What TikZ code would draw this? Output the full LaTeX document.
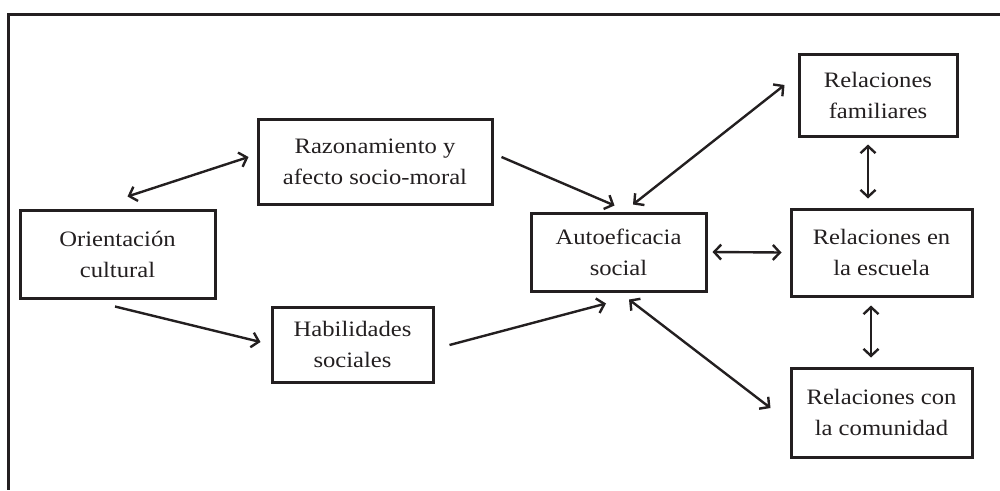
\documentclass[tikz,border=0pt]{standalone}
\usepackage{fontspec}
\setmainfont{Liberation Serif}[FakeStretch=1.12]
\usetikzlibrary{arrows.meta,calc}
\definecolor{ink}{HTML}{231F20}
\tikzset{
  box/.style={draw=ink, line width=3pt, inner sep=0pt, align=center, text=ink,
    font=\fontsize{22}{31}\selectfont},
  tip/.style={Straight Barb[length=7pt,width=15pt,line width=2.4pt]},
  conn/.style={draw=ink, line width=2.4pt, {Straight Barb[length=7pt,width=15pt,line width=2.4pt]}-{Straight Barb[length=7pt,width=15pt,line width=2.4pt]}},
  oneway/.style={draw=ink, line width=2.4pt, -{Straight Barb[length=7pt,width=15pt,line width=2.4pt]}},
}
\begin{document}
\begin{tikzpicture}[x=1pt,y=-1pt]
\useasboundingbox (0,0) rectangle (1000,490);
% outer frame (top and left)
\draw[ink, line width=3pt] (1000,14) -- (8,14) -- (8,490);
% nodes
\node[box, minimum width=195pt, minimum height=88pt] (or)  at (117.5,254)   {Orientación\\cultural};
\node[box, minimum width=234pt, minimum height=85pt] (raz) at (375,161.5)   {Razonamiento y\\afecto socio-moral};
\node[box, minimum width=161pt, minimum height=75pt] (hab) at (352.5,344.5) {Habilidades\\sociales};
\node[box, minimum width=175pt, minimum height=78pt] (auto) at (618.5,252)  {Autoeficacia\\social};
\node[box, minimum width=158pt, minimum height=82pt] (fam) at (878,95)      {Relaciones\\familiares};
\node[box, minimum width=181pt, minimum height=87pt] (esc) at (881.5,252.5) {Relaciones en\\la escuela};
\node[box, minimum width=181pt, minimum height=89pt] (com) at (881.5,412.5) {Relaciones con\\la comunidad};
% connectors
\draw[conn] ($(or.north)+(10,-12)$) -- ($(raz.west)+(-8,-4.5)$);
\draw[oneway] ($(or.south)+(-2.5,7)$) -- ($(hab.west)+(-10,-2.5)$);
\draw[oneway] ($(raz.east)+(8,-4.5)$) -- ($(auto.north)+(-4,-6)$);
\draw[oneway] ($(hab.east)+(15,0.5)$) -- ($(auto.south)+(-12.5,11)$);
\draw[conn] ($(auto.north)+(14.5,-7)$) -- ($(fam.west)+(-13,-10)$);
\draw[conn] ($(auto.east)+(5,0)$) -- ($(esc.west)+(-8,0)$);
\draw[conn] ($(auto.south)+(10.5,7)$) -- ($(com.west)+(-19,-4.5)$);
\draw[conn] ($(fam.south)+(-10,7)$) -- ($(esc.north)+(-13.5,-9)$);
\draw[conn] ($(esc.south)+(-10.5,8)$) -- ($(com.north)+(-10.5,-9)$);
\end{tikzpicture}
\end{document}
